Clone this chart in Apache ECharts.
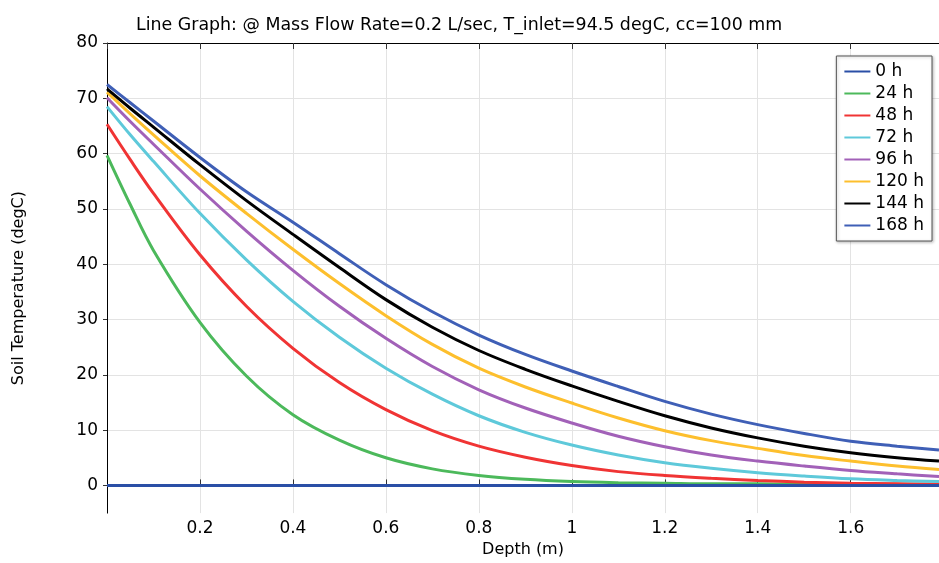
<!DOCTYPE html>
<html>
<head>
<meta charset="utf-8">
<script src="https://cdn.jsdelivr.net/npm/echarts@6/dist/echarts.min.js"></script>
<style>
  html, body { margin: 0; padding: 0; background: #fff; }
  #chart { width: 939px; height: 563px; }
</style>
</head>
<body>
<div id="chart"></div>
<script>
// depth samples (m)
const depth = [0, 0.05, 0.1, 0.2, 0.3, 0.4, 0.5, 0.6, 0.7, 0.8, 0.9, 1.0, 1.1, 1.2, 1.3, 1.4, 1.5, 1.6, 1.7, 1.79]

// soil temperature per time step (degC)
const t0   = [0, 0, 0, 0, 0, 0, 0, 0, 0, 0, 0, 0, 0, 0, 0, 0, 0, 0, 0, 0]
const t24  = [59.7, 50.8, 42.5, 29.5, 19.8, 12.8, 8.2, 5.0, 3.0, 1.8, 1.1, 0.7, 0.5, 0.4, 0.3, 0.3, 0.2, 0.2, 0.2, 0.2]
const t48  = [65.3, 58.9, 52.8, 41.7, 32.4, 24.8, 18.6, 13.7, 9.9, 7.1, 5.1, 3.6, 2.5, 1.8, 1.3, 0.9, 0.6, 0.4, 0.3, 0.2]
const t72  = [68.5, 63.4, 58.6, 49.2, 40.8, 33.3, 26.8, 21.2, 16.5, 12.6, 9.6, 7.3, 5.5, 4.1, 3.1, 2.3, 1.7, 1.2, 0.9, 0.7]
const t96  = [70.1, 65.8, 61.7, 53.6, 46.0, 38.9, 32.4, 26.6, 21.5, 17.3, 14.0, 11.3, 8.9, 7.0, 5.5, 4.4, 3.5, 2.7, 2.1, 1.6]
const t120 = [71.1, 67.2, 63.4, 56.0, 49.2, 42.7, 36.5, 30.7, 25.5, 21.2, 17.8, 14.9, 12.2, 9.9, 8.1, 6.7, 5.4, 4.4, 3.5, 2.9]
const t144 = [71.7, 68.2, 64.8, 58.0, 51.5, 45.4, 39.4, 33.6, 28.6, 24.4, 21.0, 18.0, 15.2, 12.6, 10.4, 8.6, 7.1, 5.9, 5.0, 4.4]
const t168 = [72.5, 69.2, 65.9, 59.3, 53.1, 47.6, 41.9, 36.3, 31.4, 27.2, 23.7, 20.7, 17.9, 15.2, 12.9, 11.0, 9.4, 8.0, 7.1, 6.4]

const seriesNames = ['0 h', '24 h', '48 h', '72 h', '96 h', '120 h', '144 h', '168 h']
const seriesData = [t0, t24, t48, t72, t96, t120, t144, t168]
const colors = ['#2a4fa6', '#4cb95b', '#f03434', '#5ec9da', '#a261b8', '#fdbf2d', '#000000', '#3f5fb6']

const yTicks = [0, 10, 20, 30, 40, 50, 60, 70, 80]

const font = 'DejaVu Sans'
const chart = echarts.init(document.getElementById('chart'))

const series = seriesData.map((vals, i) => ({
  name: seriesNames[i],
  type: 'line',
  data: vals.map((v, j) => [depth[j], v]),
  showSymbol: false,
  smooth: 0.35,
  lineStyle: { width: 3, color: colors[i] },
  itemStyle: { color: colors[i] },
  z: i === 0 ? 20 : 2 + i
}))

const option = {
  animation: false,
  backgroundColor: '#fff',
  textStyle: { fontFamily: font },
  title: {
    text: 'Line Graph: @ Mass Flow Rate=0.2 L/sec, T_inlet=94.5 degC, cc=100 mm',
    left: 131,
    top: 12,
    textStyle: { fontFamily: font, fontSize: 17.4, fontWeight: 'normal', color: '#000' }
  },
  legend: {
    orient: 'vertical',
    right: 7,
    top: 56,
    itemWidth: 26,
    itemHeight: 2,
    itemGap: 5,
    icon: 'rect',
    padding: [7, 8, 7, 8],
    borderColor: '#555',
    borderWidth: 1,
    backgroundColor: '#fff',
    shadowColor: 'rgba(0,0,0,0.25)',
    shadowBlur: 3,
    shadowOffsetX: 1,
    shadowOffsetY: 1,
    textStyle: { fontFamily: font, fontSize: 17, lineHeight: 16, color: '#000' },
    data: seriesNames
  },
  grid: { left: 107, right: 0, top: 43, bottom: 46 },
  xAxis: [{
    type: 'value',
    min: 0,
    max: 1.79,
    interval: 0.2,
    name: 'Depth (m)',
    nameLocation: 'middle',
    nameGap: 25,
    nameTextStyle: { fontFamily: font, fontSize: 16, color: '#000' },
    axisLine: { lineStyle: { color: '#000', width: 1 } },
    axisTick: { inside: true, length: 6, lineStyle: { color: '#333' } },
    axisLabel: { showMinLabel: false, showMaxLabel: false, margin: 7, fontFamily: font, fontSize: 17, color: '#000' },
    splitLine: { show: true, lineStyle: { color: '#e3e3e3', width: 1 } }
  }, {
    type: 'value',
    position: 'top',
    min: 0,
    max: 1.79,
    interval: 0.2,
    axisLine: { show: true, lineStyle: { color: '#000', width: 1 } },
    axisTick: { show: true, inside: true, length: 6, lineStyle: { color: '#333' } },
    axisLabel: { show: false },
    splitLine: { show: false }
  }],
  yAxis: {
    type: 'value',
    min: -5,
    max: 80,
    name: 'Soil Temperature (degC)',
    nameLocation: 'middle',
    nameGap: 80,
    nameRotate: 90,
    nameTextStyle: { fontFamily: font, fontSize: 16, color: '#000', padding: [0, 20, 0, 0] },
    axisLine: { show: true, lineStyle: { color: '#000', width: 1 } },
    axisTick: { show: true, length: 4, customValues: yTicks, lineStyle: { color: '#333' } },
    axisLabel: { customValues: yTicks, margin: 9, fontFamily: font, fontSize: 17, color: '#000' },
    splitLine: { show: true, lineStyle: { color: '#e3e3e3', width: 1 } }
  },
  series: series
}

chart.setOption(option)
</script>
</body>
</html>
